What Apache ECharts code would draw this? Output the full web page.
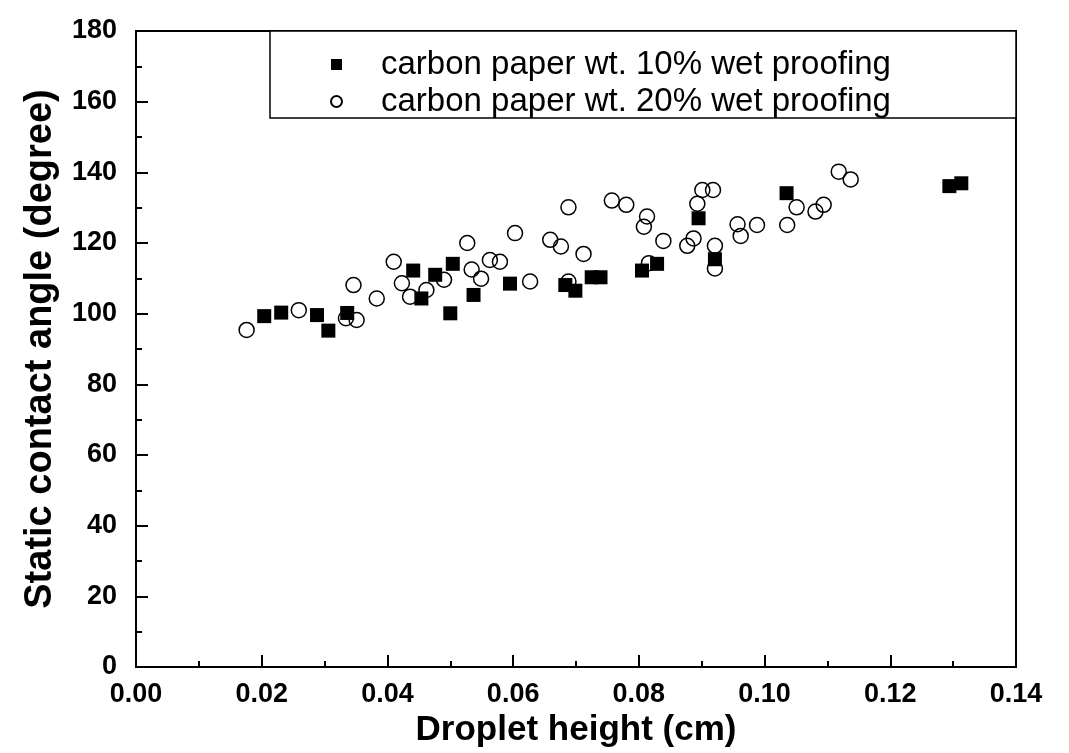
<!DOCTYPE html>
<html>
<head>
<meta charset="utf-8">
<script src="https://cdn.jsdelivr.net/npm/echarts@6/dist/echarts.min.js"></script>
<style>
  html, body { margin: 0; padding: 0; background: #fff; }
  #chart { width: 1069px; height: 753px; }
</style>
</head>
<body>
<div id="chart"></div>
<script>
  // 10% wet proofing (filled squares)
  var sqX = [0.0204, 0.0231, 0.0288, 0.0306, 0.0336, 0.0441, 0.0454, 0.0476, 0.0504, 0.0500, 0.0537, 0.0595,
             0.0683, 0.0699, 0.0725, 0.0739, 0.0805, 0.0829, 0.0895, 0.0921, 0.1035, 0.1294, 0.1313];
  var sqY = [99.3, 100.3, 99.6, 95.2, 100.2, 112.2, 104.3, 111.0, 114.1, 100.1, 105.3, 108.5,
             108.1, 106.5, 110.3, 110.3, 112.2, 114.1, 127.0, 115.4, 134.1, 136.1, 136.9];

  // 20% wet proofing (open circles)
  var ciX = [0.0176, 0.0259, 0.0334, 0.0351, 0.0346, 0.0383, 0.0410, 0.0423, 0.0436, 0.0462, 0.0490, 0.0527,
             0.0534, 0.0549, 0.0563, 0.0579, 0.0603, 0.0627, 0.0659, 0.0676, 0.0688, 0.0688, 0.0712, 0.0757,
             0.0780, 0.0808, 0.0813, 0.0816, 0.0839, 0.0877, 0.0887, 0.0893, 0.0901, 0.0918, 0.0921, 0.0921,
             0.0957, 0.0962, 0.0988, 0.1036, 0.1051, 0.1081, 0.1094, 0.1118, 0.1137];
  var ciY = [95.4, 101.0, 98.7, 98.2, 108.1, 104.3, 114.7, 108.6, 104.8, 106.7, 109.6, 120.0,
             112.5, 109.9, 115.2, 114.7, 122.8, 109.1, 120.9, 119.0, 130.1, 109.1, 116.9, 132.0,
             130.8, 124.6, 127.5, 114.3, 120.6, 119.2, 121.3, 131.1, 135.0, 135.0, 119.2, 112.8,
             125.3, 122.0, 125.1, 125.1, 130.1, 128.9, 130.8, 140.2, 138.0];

  var names = ['carbon paper wt. 10% wet proofing', 'carbon paper wt. 20% wet proofing'];

  function pairs(xs, ys) {
    return xs.map(function (x, i) { return [x, ys[i]]; });
  }

  var font = 'Liberation Sans, Arial, sans-serif';
  var chart = echarts.init(document.getElementById('chart'));

  chart.setOption({
    animation: false,
    backgroundColor: '#fff',
    grid: {
      left: 136, right: 53, top: 31, bottom: 86,
      show: true, borderColor: '#000', borderWidth: 2
    },
    graphic: [{
      type: 'rect',
      shape: { x: 270, y: 31, width: 746, height: 87 },
      style: { fill: '#fff', stroke: '#000', lineWidth: 1.5 },
      z: 50
    }],
    legend: {
      orient: 'vertical',
      left: 325, top: 43,
      itemWidth: 11, itemHeight: 11, itemGap: 4,
      z: 60,
      textStyle: { fontFamily: font, fontSize: 33, color: '#000', padding: [0, 0, 0, 34] },
      data: names
    },
    xAxis: {
      type: 'value',
      min: 0, max: 0.14, interval: 0.02,
      name: 'Droplet height (cm)',
      nameLocation: 'middle', nameGap: 37,
      nameTextStyle: { fontFamily: font, fontSize: 35, fontWeight: 'bold', color: '#000' },
      axisLine: { show: true, lineStyle: { color: '#000', width: 2 } },
      axisTick: { show: true, inside: true, length: 12, lineStyle: { color: '#000', width: 2 } },
      minorTick: { show: true, splitNumber: 2, length: 6, lineStyle: { color: '#000', width: 2 } },
      splitLine: { show: false },
      axisLabel: {
        margin: 14, fontFamily: font, fontSize: 27, fontWeight: 'bold', color: '#000',
        formatter: function (v) { return v.toFixed(2); }
      }
    },
    yAxis: {
      type: 'value',
      min: 0, max: 180, interval: 20,
      name: 'Static contact angle (degree)',
      nameLocation: 'middle', nameGap: 76, nameRotate: 90,
      nameTextStyle: { fontFamily: font, fontSize: 38, fontWeight: 'bold', color: '#000' },
      axisLine: { show: true, lineStyle: { color: '#000', width: 2 } },
      axisTick: { show: true, inside: true, length: 12, lineStyle: { color: '#000', width: 2 } },
      minorTick: { show: true, splitNumber: 2, length: 6, lineStyle: { color: '#000', width: 2 } },
      splitLine: { show: false },
      axisLabel: { margin: 19, fontFamily: font, fontSize: 27, fontWeight: 'bold', color: '#000' }
    },
    series: [
      {
        name: names[0],
        type: 'scatter',
        symbol: 'rect',
        symbolSize: 14,
        itemStyle: { color: '#000', opacity: 1 },
        data: pairs(sqX, sqY)
      },
      {
        name: names[1],
        type: 'scatter',
        symbol: 'circle',
        symbolSize: 15,
        itemStyle: { color: 'rgba(255,255,255,0)', borderColor: '#000', borderWidth: 1.5, opacity: 1 },
        data: pairs(ciX, ciY)
      }
    ]
  });
</script>
</body>
</html>
